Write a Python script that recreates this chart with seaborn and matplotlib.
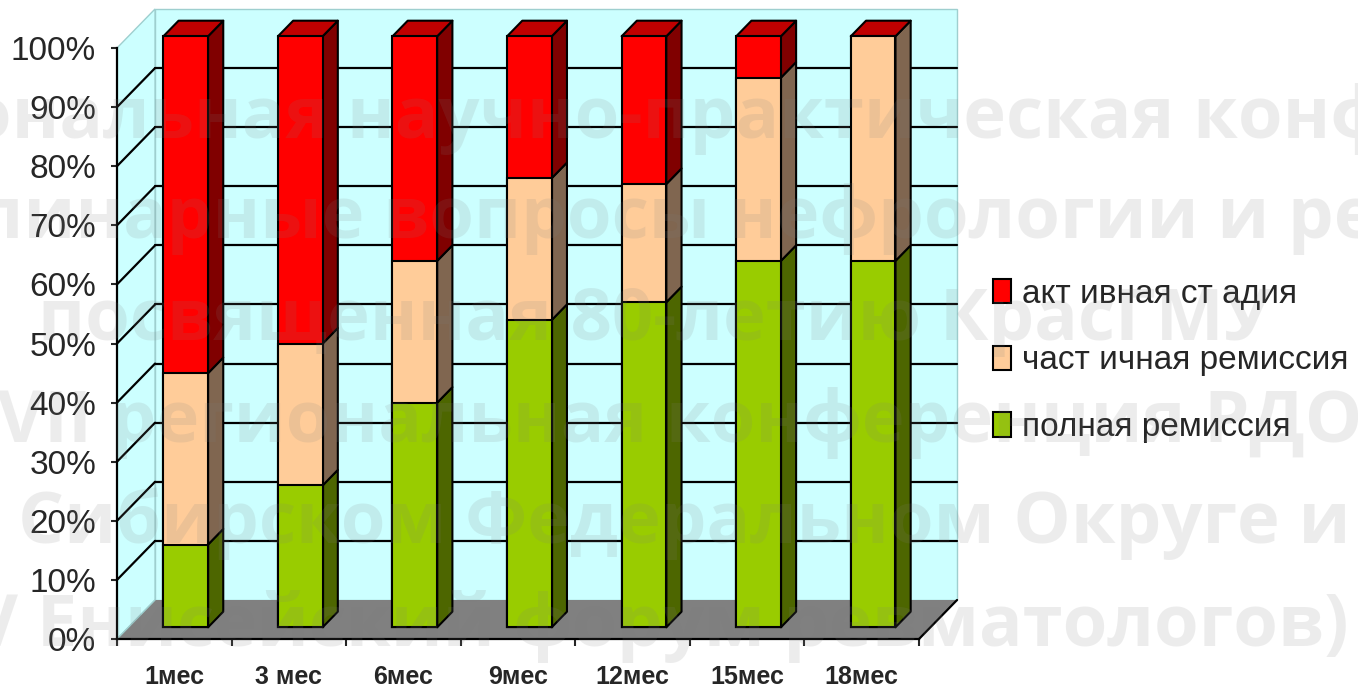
import matplotlib
matplotlib.use("Agg")
import numpy as np
import pandas as pd
import matplotlib.pyplot as plt
import matplotlib.transforms as mtransforms
from matplotlib.patches import Polygon, Patch
import seaborn as sns

# ---- data -------------------------------------------------------------
periods = ["1мес", "3 мес", "6мес", "9мес", "12мес", "15мес", "18мес"]
complete_remission = [14, 24, 38, 52, 55, 62, 62]
partial_remission = [29, 24, 24, 24, 20, 31, 38]
active_stage = [57, 52, 38, 24, 25, 7, 0]

label_complete = "полная ремиссия"
label_partial = "част ичная ремиссия"
label_active = "акт ивная ст адия"

y_ticks = [0, 10, 20, 30, 40, 50, 60, 70, 80, 90, 100]
y_tick_labels = [f"{v}%" for v in y_ticks]

watermark_lines = [
    "Межрегиональная научно-практическая конференция",
    "Междисциплинарные вопросы нефрологии и ревматологии",
    "посвященная 80-летию КрасГМУ",
    "VII региональная конференция РДО в",
    "Сибирском Федеральном Округе и",
    "V Енисейский форум ревматологов)",
]

# ---- style ------------------------------------------------------------
sns.set_style("white")
FONT = "Liberation Sans"
plt.rcParams["font.family"] = [FONT, "DejaVu Sans"]

colors = {
    "complete": ("#99CC00", "#4D6600", "#7AA300"),
    "partial": ("#FFCC99", "#806650", "#CCA37A"),
    "active": ("#FF0000", "#800000", "#C00000"),
}
WALL = "#CCFFFF"
WALL_EDGE = "#9ECFCF"
FLOOR = "#808080"

W, H = 1358, 693
fig = plt.figure(figsize=(W / 100, H / 100), dpi=100)
fig.patch.set_facecolor("white")
ax = fig.add_axes([117 / W, 54 / H, 802 / W, 591 / H])
ax.patch.set_visible(False)

# oblique depth of the plot box, in data units
DX, DY = 0.332, 6.6
BAR_FRONT, BAR_BACK = 0.3, 0.7


def at_depth(x, y, d):
    return (x + DX * d, y + DY * d)


# ---- stacked bars (front faces) via seaborn ---------------------------
df = pd.DataFrame({
    "period": periods,
    "complete": complete_remission,
    "partial": partial_remission,
    "active": active_stage,
})
df["lvl1"] = df["complete"]
df["lvl2"] = df["lvl1"] + df["partial"]
df["lvl3"] = df["lvl2"] + df["active"]

n_before = len(ax.patches)
for col, key in [("lvl3", "active"), ("lvl2", "partial"), ("lvl1", "complete")]:
    sns.barplot(data=df, x="period", y=col, order=periods, color=colors[key][0],
                saturation=1, width=0.39, edgecolor="black", linewidth=1.5,
                ax=ax, zorder=5)
bar_patches = ax.patches[n_before:]
shift = mtransforms.Affine2D().translate(DX * BAR_FRONT, DY * BAR_FRONT)
for p in bar_patches:
    p.set_transform(shift + ax.transData)
    p.set_clip_on(False)

ax.set_xlim(-0.5, len(periods) - 0.5)
ax.set_ylim(0, 100)
ax.set_xlabel("")
ax.set_ylabel("")

x0, x1 = -0.5, len(periods) - 0.5


def poly(points, **kw):
    ax.add_patch(Polygon(points, closed=True, clip_on=False, **kw))


# ---- walls, floor, gridlines -----------------------------------------
poly([at_depth(x0, 0, 1), at_depth(x1, 0, 1), at_depth(x1, 100, 1), at_depth(x0, 100, 1)],
     facecolor=WALL, edgecolor=WALL_EDGE, linewidth=1, zorder=0)
poly([at_depth(x0, 0, 0), at_depth(x0, 0, 1), at_depth(x0, 100, 1), at_depth(x0, 100, 0)],
     facecolor=WALL, edgecolor=WALL_EDGE, linewidth=1, zorder=0)
poly([at_depth(x0, 0, 0), at_depth(x1, 0, 0), at_depth(x1, 0, 1), at_depth(x0, 0, 1)],
     facecolor=FLOOR, edgecolor="none", zorder=1)
ax.plot(*zip(at_depth(x0, 0, 0), at_depth(x0, 0, 1)), color=WALL_EDGE, lw=1,
        clip_on=False, zorder=1.5)
ax.plot(*zip(at_depth(x1, 0, 0), at_depth(x1, 0, 1)), color="black", lw=1.6,
        clip_on=False, zorder=1.5)
for y in y_ticks[1:-1]:
    ax.plot(*zip(at_depth(x0, y, 1), at_depth(x1, y, 1)), color="black", lw=1.6,
            clip_on=False, zorder=2)
    ax.plot(*zip(at_depth(x0, y, 0), at_depth(x0, y, 1)), color="black", lw=1.6,
            clip_on=False, zorder=2)

# ---- bar sides and tops ----------------------------------------------
front_faces = bar_patches[:len(periods)]
for i, p in enumerate(front_faces):
    xl = p.get_x()
    xr = xl + p.get_width()
    b = 0
    for key, vals in [("complete", complete_remission), ("partial", partial_remission),
                      ("active", active_stage)]:
        t = b + vals[i]
        if t > b:
            poly([at_depth(xr, b, BAR_FRONT), at_depth(xr, b, BAR_BACK),
                  at_depth(xr, t, BAR_BACK), at_depth(xr, t, BAR_FRONT)],
                 facecolor=colors[key][1], edgecolor="black", linewidth=1.5,
                 joinstyle="round", zorder=4)
        b = t
    poly([at_depth(xl, b, BAR_FRONT), at_depth(xr, b, BAR_FRONT),
          at_depth(xr, b, BAR_BACK), at_depth(xl, b, BAR_BACK)],
         facecolor=colors["active"][2], edgecolor="black", linewidth=1.5,
         joinstyle="round", zorder=4)

# ---- axes decoration --------------------------------------------------
for side in ["top", "right"]:
    ax.spines[side].set_visible(False)
for side in ["left", "bottom"]:
    ax.spines[side].set_color("black")
    ax.spines[side].set_linewidth(1.6)
    ax.spines[side].set_zorder(6)

ax.set_yticks(y_ticks, y_tick_labels)
ax.tick_params(axis="y", direction="out", length=4, width=1.5, pad=11,
               labelsize=24, left=True)
ax.set_xticks(range(len(periods)), periods)
ax.set_xticks(np.arange(-0.5, len(periods), 1.0), minor=True)
ax.tick_params(axis="x", which="major", length=0, pad=19, labelsize=18)
ax.tick_params(axis="x", which="minor", direction="out", length=5, width=1.5,
               bottom=True)
for lbl in ax.get_xticklabels():
    lbl.set_fontweight("bold")

# ---- legend ------------------------------------------------------------
handles = [
    Patch(facecolor=colors["active"][0], edgecolor="black", linewidth=1.5),
    Patch(facecolor=colors["partial"][0], edgecolor="black", linewidth=1.5),
    Patch(facecolor=colors["complete"][0], edgecolor="black", linewidth=1.5),
]
fig.legend(handles, [label_active, label_partial, label_complete],
           loc="center left", bbox_to_anchor=(993 / W, 1 - 361 / H),
           frameon=False, prop={"family": FONT, "size": 24},
           handlelength=0.55, handleheight=0.75, handletextpad=0.33,
           labelspacing=1.07, borderpad=0, borderaxespad=0)

# ---- watermark ---------------------------------------------------------
wm_x = [665, 679, 654, 712, 684, 660]
wm_baseline = [138, 238, 340, 442, 543, 646]
for text, xc, yb in zip(watermark_lines, wm_x, wm_baseline):
    fig.text(xc / W, 1 - yb / H, text, ha="center", va="baseline",
             family="Open Sans", fontweight="bold", fontsize=52,
             color="#7F7F7F", alpha=0.14, zorder=10)

fig.savefig("out.png", dpi=100)
